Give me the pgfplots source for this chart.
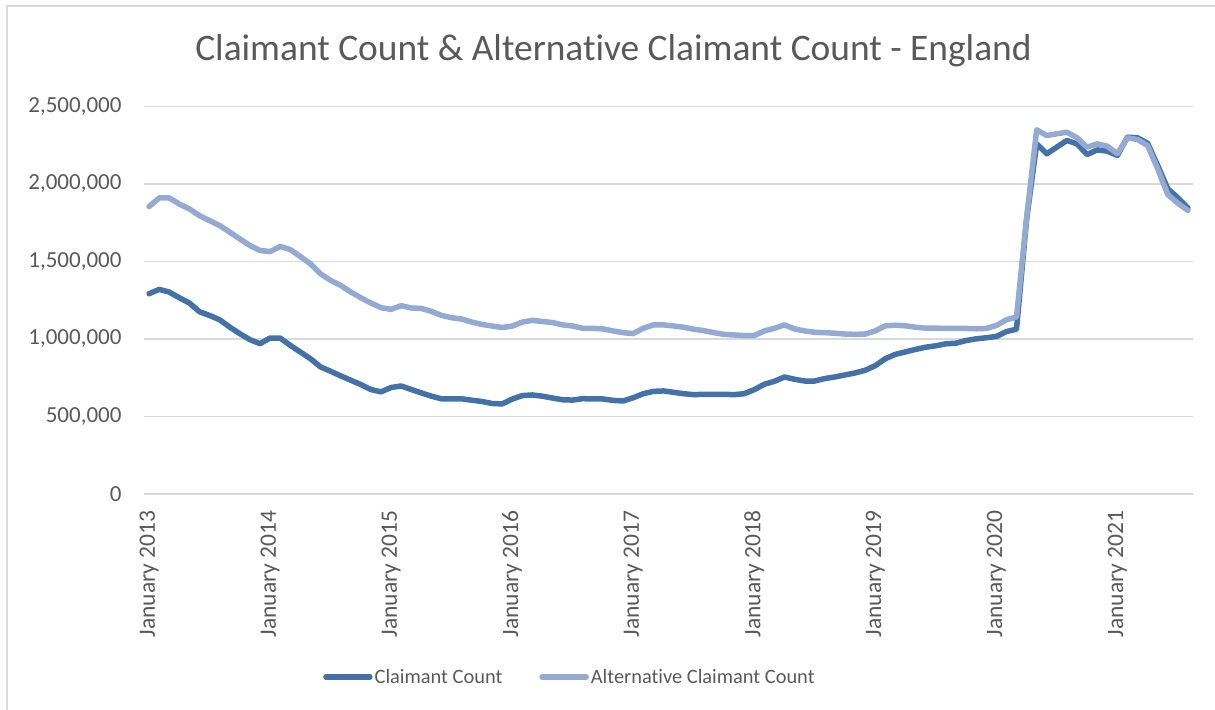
\documentclass[border=0pt]{standalone}
\usepackage{fontspec}
\setmainfont{Carlito}[Ligatures=NoCommon]
\usepackage{pgfplots}
\usepackage{pgfplotstable}
\pgfplotsset{compat=1.18}
\definecolor{cc}{RGB}{68,114,168}
\definecolor{acc}{RGB}{148,170,210}
\definecolor{gridc}{RGB}{217,217,217}
\definecolor{txt}{RGB}{89,89,89}
\pgfplotstableread{
m cc acc
0 1292000 1854000
1 1320000 1910000
2 1303000 1910000
3 1266000 1871000
4 1232000 1839000
5 1176000 1796000
6 1152000 1764000
7 1124000 1732000
8 1077000 1689000
9 1034000 1646000
10 996000 1603000
11 970000 1571000
12 1006000 1564000
13 1006000 1597000
14 959000 1577000
15 916000 1532000
16 873000 1485000
17 820000 1421000
18 792000 1378000
19 762000 1346000
20 734000 1303000
21 706000 1266000
22 674000 1232000
23 659000 1202000
24 687000 1191000
25 697000 1215000
26 674000 1200000
27 652000 1197000
28 631000 1178000
29 614000 1152000
30 614000 1137000
31 614000 1129000
32 605000 1109000
33 597000 1094000
34 584000 1084000
35 581000 1074000
36 612000 1083000
37 635000 1109000
38 639000 1120000
39 631000 1113000
40 619000 1106000
41 608000 1091000
42 606000 1084000
43 615000 1069000
44 613000 1069000
45 613000 1065000
46 604000 1052000
47 600000 1041000
48 621000 1035000
49 647000 1069000
50 662000 1091000
51 665000 1091000
52 656000 1084000
53 647000 1076000
54 641000 1063000
55 643000 1054000
56 643000 1041000
57 643000 1030000
58 641000 1026000
59 647000 1022000
60 673000 1022000
61 708000 1052000
62 727000 1069000
63 755000 1091000
64 740000 1065000
65 729000 1052000
66 729000 1043000
67 745000 1041000
68 755000 1037000
69 768000 1032000
70 781000 1030000
71 798000 1032000
72 828000 1052000
73 873000 1085000
74 901000 1089000
75 917000 1085000
76 933000 1076000
77 947000 1070000
78 956000 1070000
79 969000 1068000
80 973000 1068000
81 990000 1068000
82 1001000 1066000
83 1008000 1068000
84 1016000 1087000
85 1048000 1124000
86 1063000 1141000
87 1770000 1780000
88 2259000 2349000
89 2195000 2313000
90 2238000 2324000
91 2281000 2334000
92 2259000 2298000
93 2190000 2238000
94 2220000 2259000
95 2212000 2244000
96 2184000 2195000
97 2302000 2298000
98 2298000 2287000
99 2263000 2248000
100 2119000 2098000
101 1969000 1932000
102 1911000 1876000
103 1846000 1829000
}\datatable
\begin{document}
\begin{tikzpicture}
\path[use as bounding box] (0bp,0bp) rectangle (1215bp,710bp);
\draw[gridc, line width=1.5bp] (7bp,-10bp) -- (7bp,704bp) -- (1230bp,704bp);
\begin{axis}[
  at={(144bp,216bp)}, anchor=south west,
  scale only axis, width=1049bp, height=387.5bp,
  xmin=-0.5, xmax=103.5, ymin=0, ymax=2500000,
  axis line style={draw=none},
  major tick length=0pt,
  ymajorgrids, grid style={gridc, line width=1.5bp},
  ytick={0,500000,1000000,1500000,2000000,2500000},
  scaled y ticks=false,
  /pgf/number format/fixed,
  /pgf/number format/precision=0,
  /pgf/number format/1000 sep={,},
  /pgf/number format/assume math mode=true,
  yticklabel style={text=txt, font=\fontsize{23bp}{27bp}\selectfont, anchor=east, xshift=-19bp},
  xtick={0,12,24,36,48,60,72,84,96},
  xticklabels={January 2013,January 2014,January 2015,January 2016,January 2017,January 2018,January 2019,January 2020,January 2021},
  xticklabel style={text=txt, font=\fontsize{23.5bp}{27bp}\selectfont, rotate=90, anchor=east, xshift=-13bp},
  legend style={at={(0.406,-0.472)}, anchor=center, draw=none, fill=none,
    legend columns=2, font=\fontsize{20.4bp}{24bp}\selectfont, text=txt,
    /tikz/every even column/.append style={column sep=35bp}},
  legend image code/.code={\draw[#1, line width=5.5bp, line cap=round] (0bp,0bp) -- (44bp,0bp);},
]
\addplot[cc, line width=5.5bp, line join=round, line cap=round] table[x=m, y=cc] {\datatable};
\addlegendentry{Claimant Count}
\addplot[acc, line width=5.5bp, line join=round, line cap=round] table[x=m, y=acc] {\datatable};
\addlegendentry{Alternative Claimant Count}
\end{axis}
\node[text=txt, font=\fontsize{37.4bp}{42bp}\selectfont] at (613.5bp,659bp) {Claimant Count \& Alternative Claimant Count - England};
\end{tikzpicture}
\end{document}
